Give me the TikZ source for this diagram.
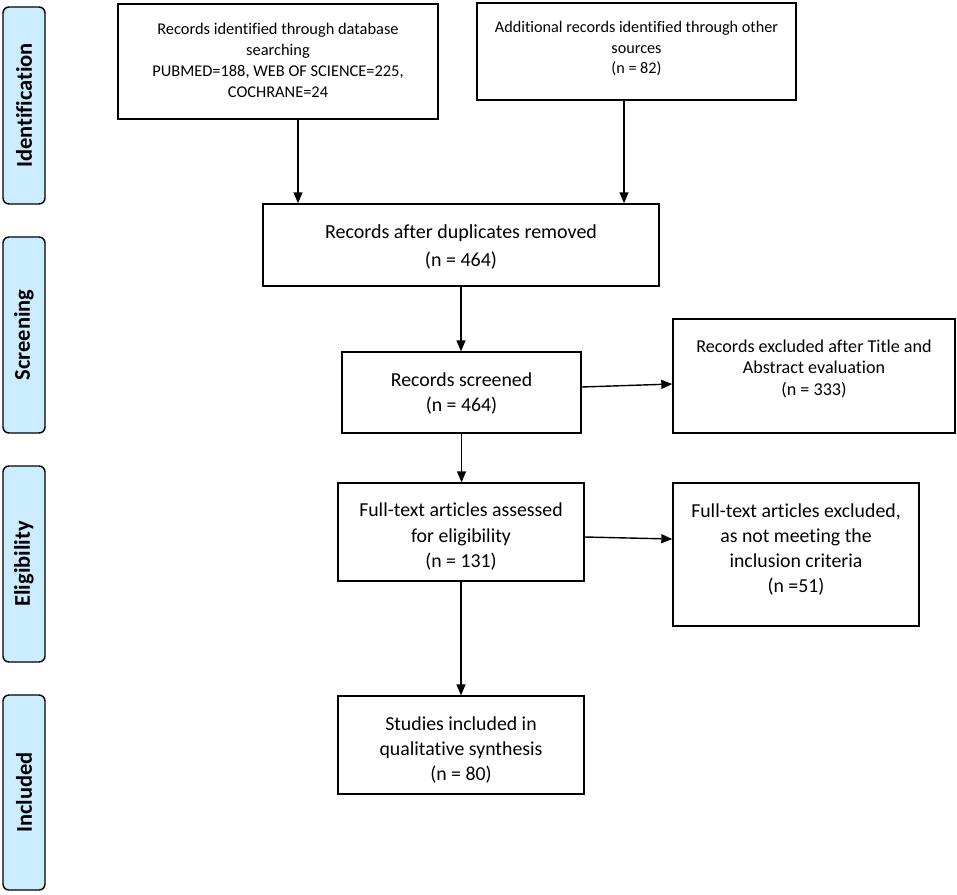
\documentclass[tikz,border=0pt]{standalone}
\usepackage{fontspec}
\setmainfont{Carlito}[Ligatures=NoCommon]
\usetikzlibrary{arrows.meta}
\definecolor{sidefill}{RGB}{204,236,255}
\begin{document}
\begin{tikzpicture}[x=1pt,y=-1pt,
  box/.style={draw=black,line width=1.4pt,inner sep=0pt},
  side/.style={draw=black,line width=1.4pt,fill=sidefill,rounded corners=6pt,inner sep=0pt,
    minimum width=42pt},
  sidetext/.style={rotate=90,font=\fontsize{22.5}{26}\selectfont\bfseries},
  txt/.style={align=center,inner sep=0pt},
  arr/.style={line width=1.4pt,-{Triangle[length=11pt,width=9pt]}}]
\useasboundingbox (0,0) rectangle (957,894);
% side bars
\node[side,minimum height=197pt] (s1) at (24,105.5) {};
\node[sidetext] (s1t) at (s1) {Identification};
\node[side,minimum height=196pt] (s2) at (24,335) {};
\node[sidetext] (s2t) at (s2) {Screening};
\node[side,minimum height=196pt] (s3) at (24,564) {};
\node[sidetext] (s3t) at (s3) {Eligibility};
\node[side,minimum height=195pt] (s4) at (24,792.5) {};
\node[sidetext] (s4t) at (s4) {Included};
% boxes
\node[box,minimum width=320pt,minimum height=115pt] (b1) at (278,61.5) {};
\node[txt,font=\fontsize{16.4}{21}\selectfont] (b1t) at (278,60)
  {Records identified through database\\searching\\PUBMED=188, WEB OF SCIENCE=225,\\COCHRANE=24};
\node[box,minimum width=319pt,minimum height=97pt] (b2) at (636.5,51.5) {};
\node[txt,font=\fontsize{16.2}{20.5}\selectfont] (b2t) at (636.5,48.5)
  {Additional records identified through other\\sources\\(n = 82)};
\node[box,minimum width=396pt,minimum height=82pt] (b3) at (461,245) {};
\node[txt,font=\fontsize{20}{28}\selectfont] (b3t) at (461,247)
  {Records after duplicates removed\\(n = 464)};
\node[box,minimum width=239pt,minimum height=81pt] (b4) at (461.5,392.5) {};
\node[txt,font=\fontsize{19.8}{25}\selectfont] (b4t) at (461.5,393.5)
  {Records screened\\(n = 464)};
\node[box,minimum width=282pt,minimum height=114pt] (b5) at (814,376) {};
\node[txt,font=\fontsize{18.1}{21.5}\selectfont] (b5t) at (814,368.5)
  {Records excluded after Title and\\Abstract evaluation\\(n = 333)};
\node[box,minimum width=246pt,minimum height=98pt] (b6) at (461,532) {};
\node[txt,font=\fontsize{19.8}{25.5}\selectfont] (b6t) at (461,536.5)
  {Full-text articles assessed\\for eligibility\\(n = 131)};
\node[box,minimum width=246pt,minimum height=143pt] (b7) at (796,554.5) {};
\node[txt,font=\fontsize{19.8}{25}\selectfont] (b7t) at (796,549)
  {Full-text articles excluded,\\as not meeting the\\inclusion criteria\\(n =51)};
\node[box,minimum width=246pt,minimum height=98pt] (b8) at (461,745) {};
\node[txt,font=\fontsize{19.8}{25}\selectfont] (b8t) at (461,749.5)
  {Studies included in\\qualitative synthesis\\(n = 80)};
% connectors
\draw[arr] ([xshift=20pt]b1.south) -- ([xshift=20pt]b1.south |- b3.north);
\draw[arr] ([xshift=-12.5pt]b2.south) -- ([xshift=-12.5pt]b2.south |- b3.north);
\draw[arr] (b3.south) -- (b3.south |- b4.north);
\draw[arr] ([yshift=5.5pt]b4.east) -- ([yshift=-8pt]b5.west);
\draw[arr] (b4.south) -- (b4.south |- b6.north);
\draw[arr] ([yshift=-5pt]b6.east) -- ([yshift=15.5pt]b7.west);
\draw[arr] (b6.south) -- (b6.south |- b8.north);
\end{tikzpicture}
\end{document}
